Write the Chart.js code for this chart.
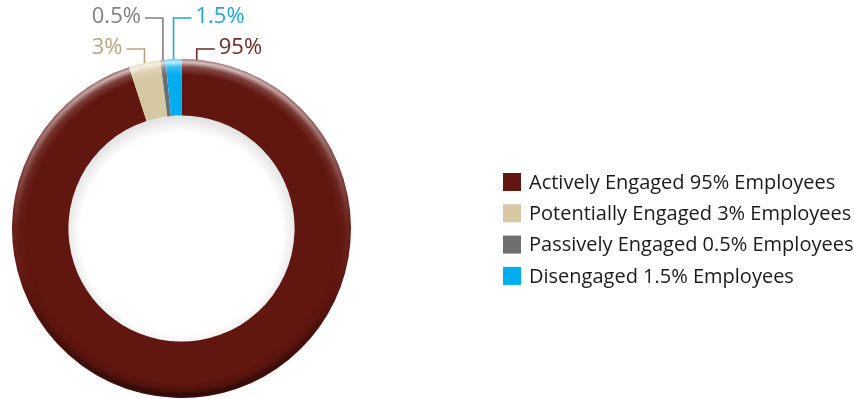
<!DOCTYPE html>
<html>
<head>
<meta charset="utf-8">
<script src="https://cdn.jsdelivr.net/npm/chart.js@4.4.1/dist/chart.umd.min.js"></script>
<style>
  html, body { margin: 0; background: #fff; }
  #wrap { width: 854px; height: 399px; position: relative; }
</style>
</head>
<body>
<div id="wrap"><canvas id="engagementChart"></canvas></div>
<script>
// Engagement split
const categories = ['Actively Engaged', 'Potentially Engaged', 'Passively Engaged', 'Disengaged'];
const shares = [95, 3, 0.5, 1.5];
const sliceColors = ['#621610', '#d6c8a2', '#6d6e71', '#00aeef'];
const calloutColors = ['#6e2a22', '#b8a57a', '#808080', '#1aa9e0'];

// where each callout sits: row height and which side the text goes
const calloutLayout = [
    { y: 49, dir: 1, fromStart: true },
    { y: 49, dir: -1 },
    { y: 18, dir: -1 },
    { y: 18, dir: 1 }
];

const FONT = '"Open Sans", "Noto Sans", sans-serif';

// Bevel on the outer rim and a soft shadow inside the hole
const ringShading = {
    id: 'ringShading',
    afterDatasetsDraw(chart) {
        const arc = chart.getDatasetMeta(0).data[0];
        const { x, y, outerRadius: R, innerRadius: r } = arc.getProps(['x', 'y', 'outerRadius', 'innerRadius'], true);
        const ctx = chart.ctx;

        const off = document.createElement('canvas');
        off.width = chart.width;
        off.height = chart.height;
        const o = off.getContext('2d');
        const lin = o.createLinearGradient(0, y - R, 0, y + R);
        lin.addColorStop(0, 'rgba(255,255,255,0.75)');
        lin.addColorStop(0.3, 'rgba(255,255,255,0.3)');
        lin.addColorStop(0.5, 'rgba(255,255,255,0.05)');
        lin.addColorStop(0.7, 'rgba(0,0,0,0.1)');
        lin.addColorStop(1, 'rgba(0,0,0,0.55)');
        o.fillStyle = lin;
        o.beginPath();
        o.arc(x, y, R, 0, Math.PI * 2);
        o.arc(x, y, r, 0, Math.PI * 2, true);
        o.fill();
        o.globalCompositeOperation = 'destination-in';
        const rad = o.createRadialGradient(x, y, R - 16, x, y, R);
        rad.addColorStop(0, 'rgba(0,0,0,0)');
        rad.addColorStop(0.5, 'rgba(0,0,0,0.3)');
        rad.addColorStop(0.8, 'rgba(0,0,0,1)');
        rad.addColorStop(1, 'rgba(0,0,0,0.6)');
        o.fillStyle = rad;
        o.fillRect(0, 0, off.width, off.height);
        ctx.drawImage(off, 0, 0);

        // hole shadow, a little heavier at the top
        ctx.save();
        ctx.beginPath();
        ctx.arc(x, y, r, 0, Math.PI * 2);
        ctx.clip();
        const hole = ctx.createRadialGradient(x, y + 5, r - 12, x, y + 5, r + 5);
        hole.addColorStop(0, 'rgba(0,0,0,0)');
        hole.addColorStop(1, 'rgba(0,0,0,0.12)');
        ctx.fillStyle = hole;
        ctx.fillRect(x - r, y - r, r * 2, r * 2);
        ctx.restore();
    }
};

// Percent callouts with elbow leader lines above the ring
const callouts = {
    id: 'callouts',
    afterDraw(chart) {
        const ctx = chart.ctx;
        const meta = chart.getDatasetMeta(0);
        const values = chart.data.datasets[0].data;
        ctx.save();
        ctx.lineWidth = 1.6;
        ctx.font = '22px ' + FONT;
        ctx.textBaseline = 'middle';
        meta.data.forEach((arc, i) => {
            const p = arc.getProps(['x', 'y', 'startAngle', 'endAngle', 'outerRadius'], true);
            const L = calloutLayout[i];
            const a = L.fromStart ? p.startAngle + 0.09 : (p.startAngle + p.endAngle) / 2;
            const px = p.x + p.outerRadius * Math.cos(a);
            const py = p.y + p.outerRadius * Math.sin(a);
            ctx.strokeStyle = calloutColors[i];
            ctx.fillStyle = calloutColors[i];
            ctx.beginPath();
            ctx.moveTo(px, py);
            ctx.lineTo(px, L.y);
            ctx.lineTo(px + L.dir * 18, L.y);
            ctx.stroke();
            ctx.textAlign = L.dir > 0 ? 'left' : 'right';
            ctx.fillText(values[i] + '%', px + L.dir * 22, L.y - 1);
        });
        ctx.restore();
    }
};

// Legend on the right, one square swatch per category
const sideLegend = {
    id: 'sideLegend',
    afterDraw(chart) {
        const ctx = chart.ctx;
        const ds = chart.data.datasets[0];
        ctx.save();
        ctx.font = '20px ' + FONT;
        ctx.textBaseline = 'middle';
        ctx.textAlign = 'left';
        chart.data.labels.forEach((lbl, i) => {
            const top = 173 + i * 31.3;
            ctx.fillStyle = ds.backgroundColor[i];
            ctx.fillRect(503, top, 18, 18);
            ctx.fillStyle = '#1a1a1a';
            ctx.fillText(lbl + ' ' + ds.data[i] + '% Employees', 529, top + 10);
        });
        ctx.restore();
    }
};

new Chart(document.getElementById('engagementChart'), {
    type: 'doughnut',
    data: {
        labels: categories,
        datasets: [{
            data: shares,
            backgroundColor: sliceColors,
            borderWidth: 0
        }]
    },
    options: {
        responsive: true,
        maintainAspectRatio: false,
        animation: false,
        cutout: '66.7%',
        layout: { padding: { left: 12, top: 59, right: 503, bottom: 1 } },
        plugins: {
            legend: { display: false },
            tooltip: { enabled: false }
        }
    },
    plugins: [ringShading, callouts, sideLegend]
});
</script>
</body>
</html>
